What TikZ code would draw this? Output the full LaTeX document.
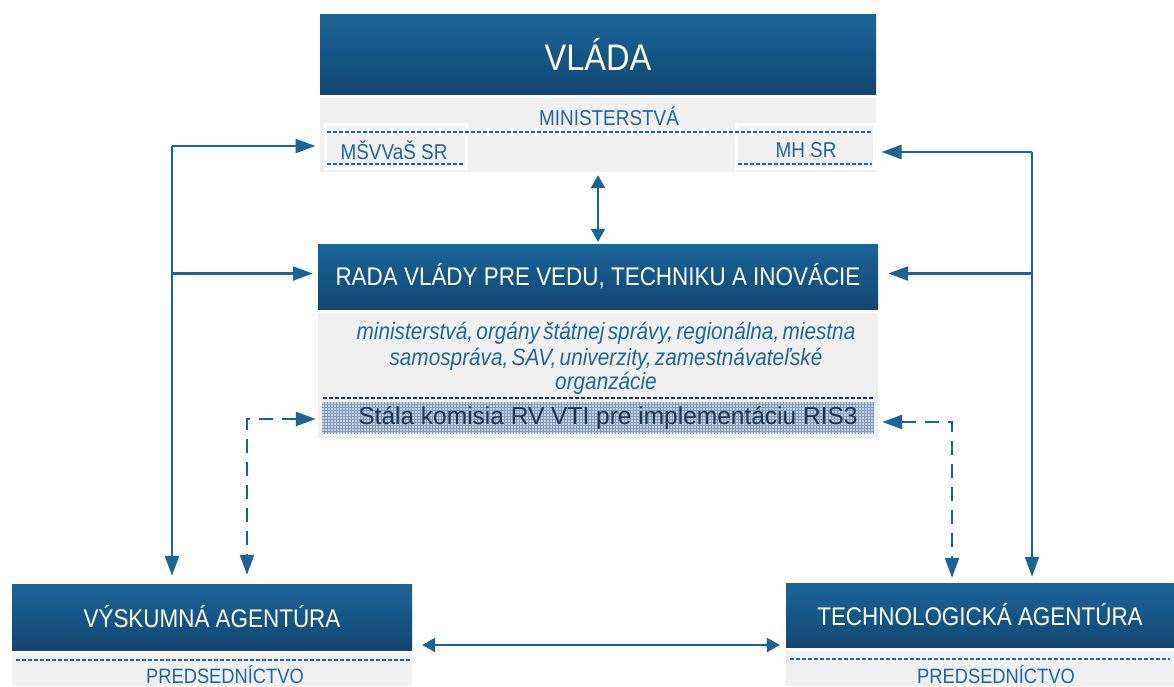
\documentclass[tikz,border=0pt]{standalone}
\usepackage{fontspec}
\setmainfont{Liberation Sans}
\newfontfamily\nar{Liberation Sans}[FakeStretch=0.88]
\usetikzlibrary{arrows.meta,patterns}
\definecolor{bluetop}{HTML}{1A6699}
\definecolor{bluebot}{HTML}{134670}
\definecolor{greyfill}{HTML}{F0F0F0}
\definecolor{txtblue}{HTML}{1F66A0}
\definecolor{arrblue}{HTML}{1A6496}
\definecolor{navy}{HTML}{1C3550}
\definecolor{gridbase}{HTML}{C3D1DF}
\definecolor{gridline}{HTML}{819DB9}
\tikzset{
  bluebox/.style={draw=none, top color=bluetop, bottom color=bluebot, text=white, inner sep=0pt},
  greybox/.style={fill=greyfill, draw=none, inner sep=0pt},
  subbox/.style={fill=greyfill, draw=white, line width=3pt, inner sep=0pt},
  lbl/.style={text=txtblue, inner sep=0pt},
  arr/.style={draw=arrblue, line width=2.4pt, -{Triangle[length=20pt,width=14pt]}},
  arrboth/.style={draw=arrblue, line width=2.2pt, {Triangle[length=13pt,width=14pt]}-{Triangle[length=13pt,width=14pt]}},
  darr/.style={draw=arrblue, line width=2.4pt, dash pattern=on 14pt off 9pt, {Triangle[length=20pt,width=14pt]}-{Triangle[length=20pt,width=14pt]}},
  dotline/.style={draw=txtblue, line width=2pt, dash pattern=on 4pt off 2pt},
  darkdash/.style={draw=navy, line width=2pt, dash pattern=on 4pt off 2pt},
}
\begin{document}
\begin{tikzpicture}[x=1pt,y=-1pt]
\useasboundingbox (0,0) rectangle (1174,686);
% VLADA
\node[bluebox, minimum width=556pt, minimum height=80pt] (vlada) at (598,54)
  {\nar\fontsize{37}{40}\selectfont VLÁDA};
% Ministerstva
\node[greybox, minimum width=556pt, minimum height=74pt] (min) at (598,135) {};
\node[lbl] (minlbl) at (609,116) {\nar\fontsize{21.5}{24}\selectfont MINISTERSTVÁ};
\node[subbox, minimum width=141pt, minimum height=44pt] (msv) at (395.5,146) {};
\node[subbox, minimum width=138pt, minimum height=44pt] (mh) at (805,146) {};
\node[lbl] (msvlbl) at (394,150) {\nar\fontsize{21.5}{24}\selectfont MŠVVaŠ SR};
\node[lbl] (mhlbl) at (806,150) {\nar\fontsize{21.5}{24}\selectfont MH SR};
\draw[dotline] (327,132) -- (872,132);
\draw[dotline] (327,164) -- (464,164);
\draw[dotline] (738,164) -- (872,164);
% RADA
\node[bluebox, minimum width=560pt, minimum height=65pt] (rada) at (598,276.5)
  {\nar\fontsize{25.5}{30}\selectfont RADA VLÁDY PRE VEDU, TECHNIKU A INOVÁCIE};
\node[greybox, minimum width=560pt, minimum height=125pt] (radag) at (598,375.5) {};
\node[lbl, text width=560pt, align=center] (members) at (606,358)
  {\nar\itshape\fontsize{23.6}{26.5}\selectfont ministerstvá, orgány štátnej správy, regionálna, miestna\\
   samospráva, SAV, univerzity, zamestnávateľské\\ organzácie};
\node[draw=none, inner sep=0pt, minimum width=552pt, minimum height=31pt,
  preaction={fill=gridbase}, pattern=grid, pattern color=gridline] (kom) at (598,417.5) {};
\node[text=navy, inner sep=0pt] (komlbl) at (608,418)
  {\fontsize{24.5}{28}\selectfont Stála komisia RV VTI pre implementáciu RIS3};
\draw[darkdash] (323,398) -- (874,398);
% Agencies
\node[bluebox, minimum width=400pt, minimum height=66pt] (va) at (212,617)
  {\nar\fontsize{25.5}{30}\selectfont VÝSKUMNÁ AGENTÚRA};
\node[greybox, minimum width=400pt, minimum height=33pt] (vag) at (212,669.5) {};
\draw[dotline] (16,660) -- (410,660);
\node[lbl] (vapred) at (225,675) {\nar\fontsize{20.8}{24}\selectfont PREDSEDNÍCTVO};
\node[bluebox, minimum width=388pt, minimum height=64pt] (ta) at (980,615)
  {\nar\fontsize{25.5}{30}\selectfont TECHNOLOGICKÁ AGENTÚRA};
\node[greybox, minimum width=388pt, minimum height=35pt] (tag) at (980,668.5) {};
\draw[dotline] (790,659) -- (1170,659);
\node[lbl] (tapred) at (996,675) {\nar\fontsize{20.8}{24}\selectfont PREDSEDNÍCTVO};
% connectors
\draw[arrboth, shorten <=3pt, shorten >=2pt] (min.south) -- (rada.north);
\coordinate (lt) at (172,146);
\coordinate (rt) at (1032,152);
\coordinate (ra) at ([yshift=3pt]rada.west);
\coordinate (rb) at ([yshift=3pt]rada.east);
\draw[arr, shorten >=8pt] (lt) -- (lt -| msv.west);
\draw[arr, shorten >=8pt] (lt) -- (lt |- va.north);
\draw[arr, shorten >=5pt] (lt |- ra) -- (ra);
\draw[arr, shorten >=6pt] (rt) -- (rt -| mh.east);
\draw[arr, shorten >=6pt] (rt) -- (rt |- ta.north);
\draw[arr, shorten >=10pt] (rt |- rb) -- (rb);
\coordinate (ld) at (247,419);
\coordinate (rd) at (952,422);
\draw[darr, shorten <=6pt, shorten >=9pt] (ld -| kom.west) -- (ld) -- (ld |- va.north);
\draw[darr, shorten <=8pt, shorten >=5pt] (rd -| kom.east) -- (rd) -- (rd |- ta.north);
\coordinate (hb) at (600,645);
\draw[arrboth, line width=2.4pt, shorten <=10pt, shorten >=6pt] (hb -| va.east) -- (hb -| ta.west);
\end{tikzpicture}
\end{document}
